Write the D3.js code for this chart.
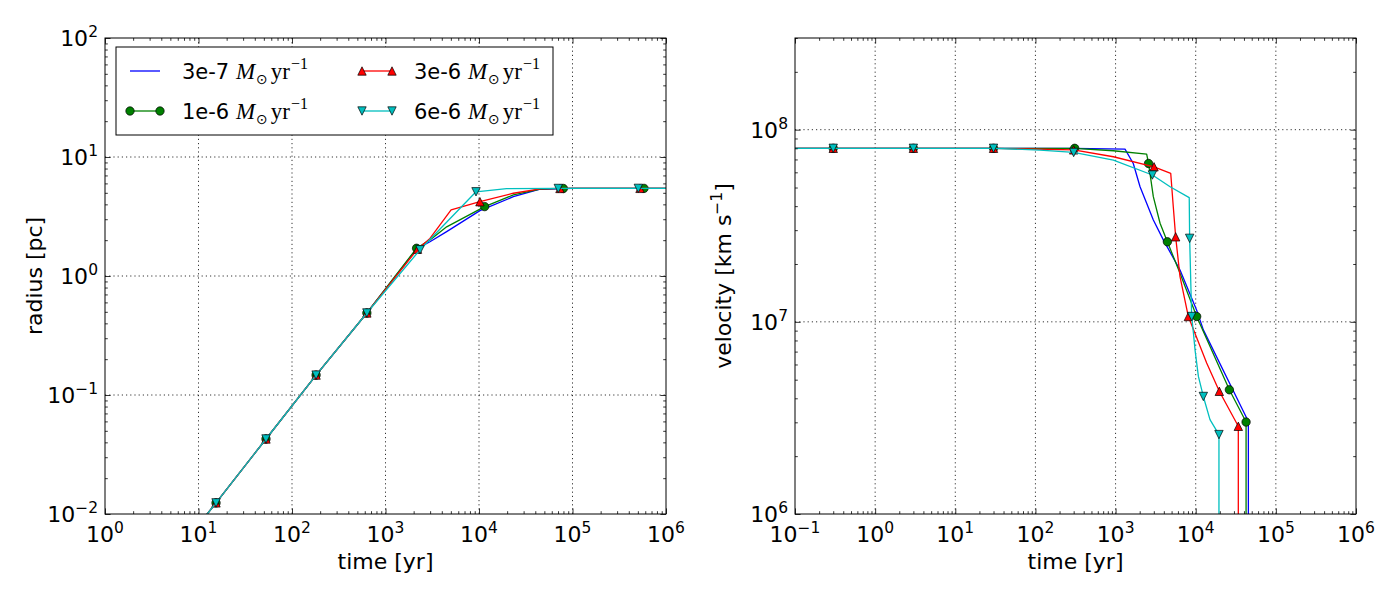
<!DOCTYPE html>
<html>
<head>
<meta charset="utf-8">
<script src="https://cdn.jsdelivr.net/npm/d3@7"></script>
<style>
    body { margin: 0; background: #fff; }
    text { font-family: "DejaVu Sans", sans-serif; fill: #000; }
</style>
</head>
<body>
<svg id="fig" width="1400" height="600"></svg>
<script>
// series description
const seriesNames = ["3e-7", "1e-6", "3e-6", "6e-6"];
const seriesColors = ["#0000ff", "#008000", "#ff0000", "#00bfbf"];
const seriesMarkers = ["none", "circle", "triangle-up", "triangle-down"];

// left panel: radius [pc] vs time [yr]
const radius3e7 = [[10, 0.0081], [15.4, 0.0124], [52.7, 0.0427], [181, 0.147], [632, 0.489], [2170, 1.70],
    [2990, 1.94], [4510, 2.36], [10230, 3.54], [23300, 4.64], [44900, 5.36], [1e5, 5.44], [1e6, 5.45]];
const radius1e6 = [[10, 0.0081], [15.4, 0.0124], [52.7, 0.0427], [181, 0.147], [632, 0.489], [2150, 1.71],
    [2990, 2.01], [4510, 2.59], [11500, 3.83], [23300, 4.80], [45000, 5.38], [79800, 5.44], [5.82e5, 5.45], [1e6, 5.45]];
const radius3e6 = [[10, 0.0081], [15.4, 0.0124], [52.7, 0.0427], [181, 0.147], [632, 0.489], [2200, 1.68],
    [2990, 2.07], [5030, 3.59], [10230, 4.21], [23300, 4.96], [45000, 5.40], [73400, 5.44], [5.27e5, 5.45], [1e6, 5.45]];
const radius6e6 = [[10, 0.0081], [15.4, 0.0124], [52.7, 0.0427], [181, 0.147], [632, 0.489], [2340, 1.66],
    [9290, 5.10], [19700, 5.42], [70500, 5.44], [5.06e5, 5.45], [1e6, 5.45]];

const radiusMarks1e6 = [[15.4, 0.0124], [52.7, 0.0427], [181, 0.147], [632, 0.489], [2150, 1.71], [11500, 3.83], [79800, 5.44], [5.82e5, 5.45]];
const radiusMarks3e6 = [[15.4, 0.0124], [52.7, 0.0427], [181, 0.147], [632, 0.489], [2200, 1.68], [10230, 4.21], [73400, 5.44], [5.27e5, 5.45]];
const radiusMarks6e6 = [[15.4, 0.0124], [52.7, 0.0427], [181, 0.147], [632, 0.489], [2340, 1.66], [9290, 5.10], [70500, 5.44], [5.06e5, 5.45]];

// right panel: velocity vs time [yr]
const velocity3e7 = [[0.1, 8.0e7], [300, 8.0e7], [1312, 7.92e7], [1663, 6.67e7], [2020, 5.05e7], [2443, 4.14e7],
    [2960, 3.39e7], [3943, 2.67e7], [6370, 1.86e7], [10280, 1.15e7], [12450, 9.08e6], [45400, 3.03e6], [45400, 1e5]];
const velocity1e6 = [[0.1, 8.0e7], [0.3, 8.0e7], [3, 8.0e7], [30, 8.0e7], [309, 8.0e7], [938, 7.77e7], [2443, 7.47e7],
    [2578, 6.67e7], [2958, 4.48e7], [3590, 3.26e7], [4430, 2.61e7], [6370, 1.79e7], [10280, 1.066e7],
    [26300, 4.43e6], [42500, 3.01e6], [42500, 1e5]];
const velocity3e6 = [[0.1, 8.0e7], [0.3, 8.0e7], [3, 8.0e7], [30, 8.0e7], [300, 7.85e7], [938, 7.23e7], [3020, 6.41e7],
    [4880, 5.92e7], [5250, 3.97e7], [5620, 2.77e7], [6370, 1.72e7], [8090, 1.066e7], [13700, 6.1e6],
    [19700, 4.35e6], [34000, 2.86e6], [34000, 1e5]];
const velocity6e6 = [[0.1, 8.0e7], [0.3, 8.0e7], [3, 8.0e7], [30, 8.0e7], [114, 7.83e7], [300, 7.61e7], [940, 6.95e7],
    [2880, 5.81e7], [4790, 5.05e7], [8300, 4.43e7], [8400, 2.72e7], [8900, 1.066e7], [9370, 8.73e6],
    [9800, 7.16e6], [10800, 5.2e6], [12450, 4.09e6], [15070, 3.1e6], [19500, 2.59e6], [19500, 1e5]];

const velocityMarks1e6 = [[0.3, 8.0e7], [3, 8.0e7], [30, 8.0e7], [309, 8.0e7], [2578, 6.67e7], [4430, 2.61e7], [10280, 1.066e7], [26300, 4.43e6], [42500, 3.01e6]];
const velocityMarks3e6 = [[0.3, 8.0e7], [3, 8.0e7], [30, 8.0e7], [300, 7.85e7], [3020, 6.41e7], [5620, 2.77e7], [8090, 1.066e7], [19700, 4.35e6], [34000, 2.86e6]];
const velocityMarks6e6 = [[0.3, 8.0e7], [3, 8.0e7], [30, 8.0e7], [300, 7.61e7], [2880, 5.81e7], [8400, 2.72e7], [8900, 1.066e7], [12450, 4.09e6], [19500, 2.59e6]];

// axis ranges (decade exponents for labels)
const radiusXExp = [0, 1, 2, 3, 4, 5, 6];
const radiusYExp = [-2, -1, 0, 1, 2];
const velocityXExp = [-1, 0, 1, 2, 3, 4, 5, 6];
const velocityYExp = [6, 7, 8];
const velocityYMax = 3e8;

const svg = d3.select("#fig");
const panelW = 561, panelH = 476, panelTop = 38;
const MS = 4.2; // marker half size

function markerPath(kind) {
    if (kind === "triangle-up") return `M0,${-MS}L${MS},${MS}L${-MS},${MS}Z`;
    if (kind === "triangle-down") return `M0,${MS}L${MS},${-MS}L${-MS},${-MS}Z`;
    return null;
}

function drawMarker(g, kind, color, x, y) {
    if (kind === "none") return;
    if (kind === "circle") {
        g.append("circle").attr("cx", x).attr("cy", y).attr("r", MS)
            .attr("fill", color).attr("stroke", "#000").attr("stroke-width", 0.7);
    } else {
        g.append("path").attr("d", markerPath(kind)).attr("transform", `translate(${x},${y})`)
            .attr("fill", color).attr("stroke", "#000").attr("stroke-width", 0.7);
    }
}

function powLabel(sel, exp) {
    sel.append("tspan").text("10");
    sel.append("tspan").attr("font-size", 15.5).attr("dy", -9).text(String(exp).replace("-", "\u2212"));
}

function minorTicks(domain) {
    const out = [];
    const lo = Math.floor(Math.log10(domain[0])), hi = Math.ceil(Math.log10(domain[1]));
    for (let e = lo; e < hi; e++) {
        for (let k = 2; k <= 9; k++) {
            const v = k * Math.pow(10, e);
            if (v > domain[0] && v <= domain[1] * 1.0001) out.push(v);
        }
    }
    return out;
}

function drawPanel(left, id, xDomain, yDomain, xExp, yExp, lines, marks, xLabel, yLabelFn) {
    const x = d3.scaleLog().domain(xDomain).range([0, panelW]);
    const y = d3.scaleLog().domain(yDomain).range([panelH, 0]);
    const g = svg.append("g").attr("transform", `translate(${left},${panelTop})`);

    g.append("clipPath").attr("id", "clip-" + id)
        .append("rect").attr("width", panelW).attr("height", panelH);

    const xMajor = xExp.map(e => Math.pow(10, e));
    const yMajor = yExp.map(e => Math.pow(10, e));

    // grid
    const grid = g.append("g").attr("stroke", "#000").attr("stroke-width", 0.8).attr("stroke-dasharray", "1.2,3");
    xMajor.slice(1, -1).forEach(v => grid.append("line").attr("x1", x(v)).attr("x2", x(v)).attr("y1", 0).attr("y2", panelH));
    yMajor.filter(v => y(v) > 0.5 && y(v) < panelH - 0.5)
        .forEach(v => grid.append("line").attr("y1", y(v)).attr("y2", y(v)).attr("x1", 0).attr("x2", panelW));

    // lines with markers
    const line = d3.line().x(d => x(d[0])).y(d => y(d[1]));
    const plot = g.append("g").attr("clip-path", `url(#clip-${id})`);
    lines.forEach((data, i) => {
        plot.append("path").datum(data).attr("d", line)
            .attr("fill", "none").attr("stroke", seriesColors[i]).attr("stroke-width", 1.3)
            .attr("stroke-linejoin", "round");
        (marks[i] || []).forEach(d => drawMarker(plot, seriesMarkers[i], seriesColors[i], x(d[0]), y(d[1])));
    });

    // ticks, inward on all four sides
    const axes = [
        [d3.axisBottom(x), `translate(0,${panelH})`, xMajor, minorTicks(xDomain)],
        [d3.axisTop(x), "translate(0,0)", xMajor, minorTicks(xDomain)],
        [d3.axisLeft(y), "translate(0,0)", yMajor, minorTicks(yDomain)],
        [d3.axisRight(y), `translate(${panelW},0)`, yMajor, minorTicks(yDomain)]
    ];
    axes.forEach(([ax, tr, major, minor]) => {
        g.append("g").attr("transform", tr)
            .call(ax.tickValues(major).tickSize(-5.6).tickFormat(() => ""))
            .call(s => s.select(".domain").remove())
            .selectAll("line").attr("stroke-width", 0.8);
        g.append("g").attr("transform", tr)
            .call(ax.tickValues(minor).tickSize(-2.8).tickFormat(() => ""))
            .call(s => s.select(".domain").remove())
            .selectAll("line").attr("stroke-width", 0.8);
    });

    g.append("rect").attr("width", panelW).attr("height", panelH)
        .attr("fill", "none").attr("stroke", "#000").attr("stroke-width", 1);

    // tick labels
    xExp.forEach(e => {
        const t = g.append("text").attr("x", x(Math.pow(10, e))).attr("y", panelH + 28)
            .attr("text-anchor", "middle").attr("font-size", 22);
        powLabel(t, e);
    });
    yExp.forEach(e => {
        const t = g.append("text").attr("x", -7).attr("y", y(Math.pow(10, e)) + 8)
            .attr("text-anchor", "end").attr("font-size", 22);
        powLabel(t, e);
    });

    g.append("text").attr("x", panelW / 2).attr("y", panelH + 55)
        .attr("text-anchor", "middle").attr("font-size", 22).text(xLabel);
    yLabelFn(g);
    return g;
}

// left panel
const gL = drawPanel(105, "radius", [1, 1e6], [1e-2, 1e2], radiusXExp, radiusYExp,
    [radius3e7, radius1e6, radius3e6, radius6e6],
    [null, radiusMarks1e6, radiusMarks3e6, radiusMarks6e6],
    "time [yr]",
    g => g.append("text").attr("transform", `translate(-63,${panelH / 2}) rotate(-90)`)
        .attr("text-anchor", "middle").attr("font-size", 22).text("radius [pc]"));

// right panel
drawPanel(795, "velocity", [0.1, 1e6], [1e6, velocityYMax], velocityXExp, velocityYExp,
    [velocity3e7, velocity1e6, velocity3e6, velocity6e6],
    [null, velocityMarks1e6, velocityMarks3e6, velocityMarks6e6],
    "time [yr]",
    g => {
        const t = g.append("text").attr("transform", `translate(-64,${panelH / 2}) rotate(-90)`)
            .attr("text-anchor", "middle").attr("font-size", 22);
        t.append("tspan").text("velocity [km s");
        t.append("tspan").attr("font-size", 15.5).attr("dy", -9).text("\u22121");
        t.append("tspan").attr("dy", 9).text("]");
    });

// legend (inside left panel, upper left)
const leg = gL.append("g").attr("transform", "translate(11,9)");
leg.append("rect").attr("width", 437).attr("height", 88)
    .attr("fill", "#fff").attr("stroke", "#000").attr("stroke-width", 1);
const legPos = [[14, 24], [14, 64], [246, 24], [246, 64]];
seriesNames.forEach((name, i) => {
    const [lx, ly] = legPos[i];
    leg.append("line").attr("x1", lx).attr("x2", lx + 30).attr("y1", ly).attr("y2", ly)
        .attr("stroke", seriesColors[i]).attr("stroke-width", 1.3);
    drawMarker(leg, seriesMarkers[i], seriesColors[i], lx, ly);
    drawMarker(leg, seriesMarkers[i], seriesColors[i], lx + 30, ly);
    const t = leg.append("text").attr("x", lx + 52).attr("y", ly + 8).attr("font-size", 21);
    t.append("tspan").text(name + " ");
    t.append("tspan").attr("font-family", "'Liberation Serif', serif").attr("font-style", "italic")
        .attr("font-size", 23).text("M");
    t.append("tspan").attr("font-family", "'DejaVu Sans', sans-serif").attr("font-size", 14)
        .attr("dy", 5).attr("dx", 1).text("\u2299");
    t.append("tspan").attr("font-family", "'Liberation Serif', serif").attr("font-size", 23)
        .attr("dy", -5).attr("dx", 3).text("yr");
    t.append("tspan").attr("font-family", "'Liberation Serif', serif").attr("font-size", 16)
        .attr("dy", -10).attr("dx", 1).text("\u22121");
});
</script>
</body>
</html>
